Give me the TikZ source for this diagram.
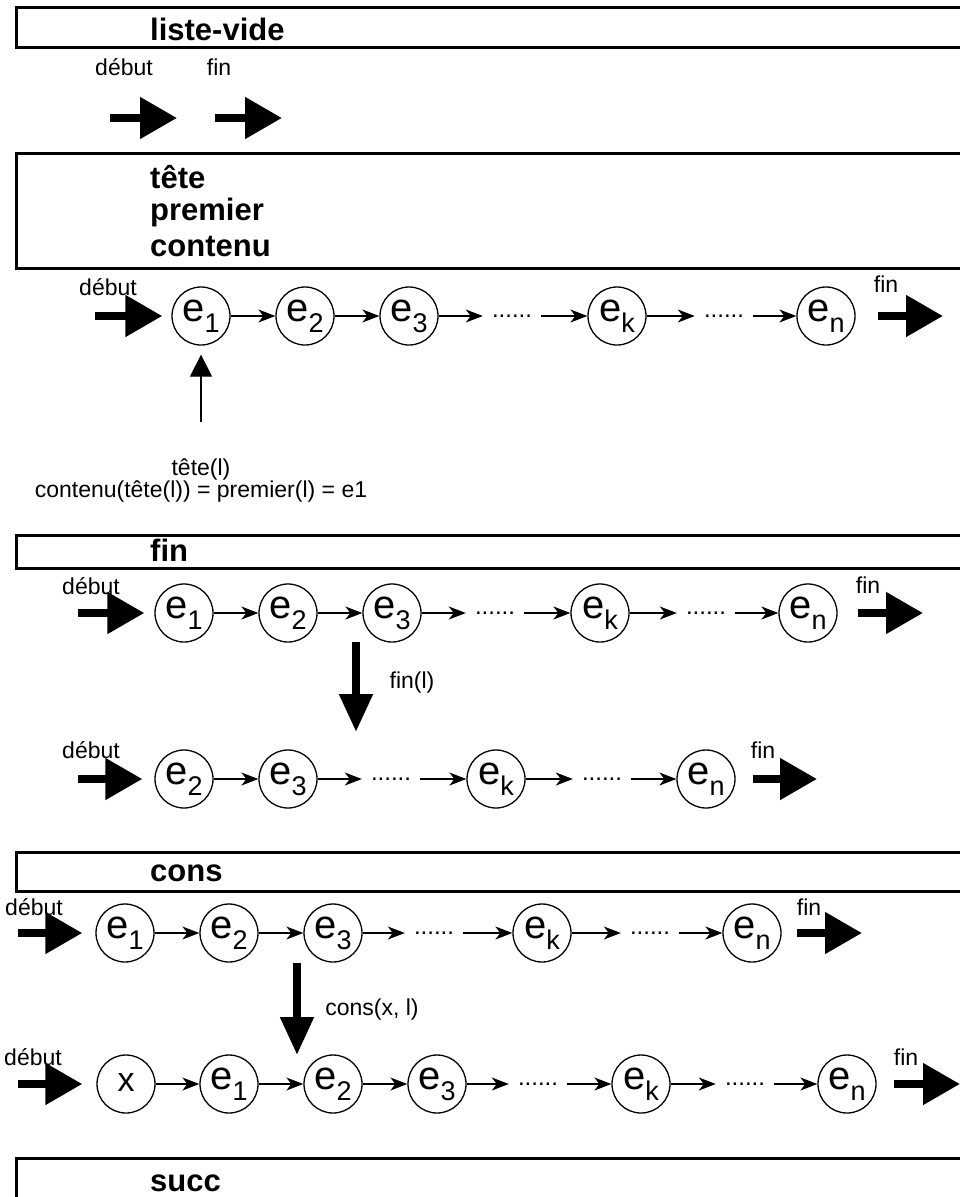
\documentclass[tikz,border=0pt]{standalone}
\usepackage{fontspec}
\setmainfont{Liberation Sans}
\usetikzlibrary{arrows.meta}
\newcommand{\elt}[1]{e\raisebox{-11pt}{\fontsize{27}{27}\selectfont #1}}

\begin{document}
\begin{tikzpicture}[
  x=1pt,y=-1pt,
  elem/.style={circle,draw,line width=1.3pt,minimum size=58pt,inner sep=0pt,
    font=\fontsize{40}{40}\selectfont},
  suite/.style={inner xsep=9pt,inner ysep=0pt,font=\fontsize{24}{24}\selectfont},
  lien/.style={line width=1.3pt,-{Stealth[length=17pt,width=13pt,inset=5pt]}},
  fat/.style={line width=8pt,-{Triangle[length=37pt,width=40pt]}},
  vfat/.style={line width=8pt,-{Triangle[length=38pt,width=32pt]}},
  etiq/.style={font=\fontsize{23}{27}\selectfont},
  rubrique/.style={anchor=west,inner sep=0pt,font=\fontsize{31}{31}\selectfont\bfseries},
  cadre/.style={line width=3pt}
]
  \useasboundingbox (0,0) rectangle (960,1197);
  \clip (0,0) rectangle (960,1197);

  \draw[cadre] (16,7) rectangle (975,47);
  \node[rubrique] (tvide) at (150,29) {liste-vide};
  \coordinate (vd0) at (110,118); \coordinate (vd1) at (177,118);
  \coordinate (vf0) at (215,118); \coordinate (vf1) at (282,118);
  \draw[fat] (vd0) -- (vd1);
  \draw[fat] (vf0) -- (vf1);
  \node[etiq] (vdeb) at (124,67) {début};
  \node[etiq] (vfin) at (219,67) {fin};

  \draw[cadre] (16,153) rectangle (975,268);
  \node[rubrique] (ttete) at (150,177) {tête};
  \node[rubrique] (tprem) at (150,212) {premier};
  \node[rubrique] (tcont) at (150,247) {contenu};

  \node[elem] (tt1) at (201,316) {\elt{1}};
  \node[elem] (tt2) at (305,316) {\elt{2}};
  \node[elem] (tt3) at (409,316) {\elt{3}};
  \node[suite] (ttd1) at (512,316) {......};
  \node[elem] (ttk) at (617,316) {\elt{k}};
  \node[suite] (ttd2) at (724,316) {......};
  \node[elem] (ttn) at (826,316) {\elt{n}};
  \coordinate (ttdeb) at (95,316); \coordinate (ttfin) at (943,316);
  \draw[fat,shorten >=9pt] (ttdeb) -- (tt1.west);
  \draw[fat,shorten <=22pt] (ttn.east) -- (ttfin);
  \node[etiq] (ttdl) at (108,287) {début};
  \node[etiq] (ttfl) at (886,284) {fin};
  \coordinate (ttpied) at (201,422);
  \draw[line width=1.3pt,-{Triangle[length=22pt,width=22pt]},shorten >=9pt]
    (ttpied) -- (tt1.south);
  \node[etiq,align=center,font=\fontsize{23}{22}\selectfont] (ttx) at (201,481)
    {tête(l)\\contenu(tête(l)) = premier(l) = e1};

  \draw[cadre] (16,535) rectangle (975,568);
  \node[rubrique] (tfin) at (150,550) {fin};

  \node[elem] (fa1) at (184,613) {\elt{1}};
  \node[elem] (fa2) at (288,613) {\elt{2}};
  \node[elem] (fa3) at (392,613) {\elt{3}};
  \node[suite] (fad1) at (495,613) {......};
  \node[elem] (fak) at (600,613) {\elt{k}};
  \node[suite] (fad2) at (706,613) {......};
  \node[elem] (fan) at (808,613) {\elt{n}};
  \coordinate (fadeb) at (78,613); \coordinate (fafin) at (923,613);
  \draw[fat,shorten >=10pt] (fadeb) -- (fa1.west);
  \draw[fat,shorten <=20pt] (fan.east) -- (fafin);
  \node[etiq] (fadl) at (91,586) {début};
  \node[etiq] (fafl) at (868,585) {fin};

  \coordinate (fop0) at (356,642); \coordinate (fop1) at (356,732);
  \draw[vfat] (fop0) -- (fop1);
  \node[etiq] (fopl) at (412,683) {fin(l)};

  \node[elem] (fb2) at (184,779) {\elt{2}};
  \node[elem] (fb3) at (288,779) {\elt{3}};
  \node[suite] (fbd1) at (391,779) {......};
  \node[elem] (fbk) at (496,779) {\elt{k}};
  \node[suite] (fbd2) at (602,779) {......};
  \node[elem] (fbn) at (706,779) {\elt{n}};
  \coordinate (fbdeb) at (78,779); \coordinate (fbfin) at (817,779);
  \draw[fat,shorten >=12pt] (fbdeb) -- (fb2.west);
  \draw[fat,shorten <=17pt] (fbn.east) -- (fbfin);
  \node[etiq] (fbdl) at (91,750) {début};
  \node[etiq] (fbfl) at (763,750) {fin};

  \draw[cadre] (16,852) rectangle (975,891);
  \node[rubrique] (tcons) at (150,873) {cons};

  \node[elem] (ca1) at (125,933) {\elt{1}};
  \node[elem] (ca2) at (229,933) {\elt{2}};
  \node[elem] (ca3) at (333,933) {\elt{3}};
  \node[suite] (cad1) at (434,933) {......};
  \node[elem] (cak) at (542,933) {\elt{k}};
  \node[suite] (cad2) at (650,933) {......};
  \node[elem] (can) at (752,933) {\elt{n}};
  \coordinate (cadeb) at (18,933); \coordinate (cafin) at (862,933);
  \draw[fat,shorten >=13pt] (cadeb) -- (ca1.west);
  \draw[fat,shorten <=15pt] (can.east) -- (cafin);
  \node[etiq] (cadl) at (34,907) {début};
  \node[etiq] (cafl) at (809,907) {fin};

  \coordinate (cop0) at (297,963); \coordinate (cop1) at (297,1055);
  \draw[vfat] (cop0) -- (cop1);
  \node[etiq] (copl) at (372,1010) {cons(x, l)};

  \node[elem,font=\fontsize{34}{34}\selectfont] (cbx) at (126,1084) {\raisebox{3pt}{x}};
  \node[elem] (cb1) at (229,1084) {\elt{1}};
  \node[elem] (cb2) at (333,1084) {\elt{2}};
  \node[elem] (cb3) at (437,1084) {\elt{3}};
  \node[suite] (cbd1) at (538,1084) {......};
  \node[elem] (cbk) at (641,1084) {\elt{k}};
  \node[suite] (cbd2) at (745,1084) {......};
  \node[elem] (cbn) at (847,1084) {\elt{n}};
  \coordinate (cbdeb) at (18,1084); \coordinate (cbfin) at (960,1084);
  \draw[fat,shorten >=14pt] (cbdeb) -- (cbx.west);
  \draw[fat,shorten <=17pt] (cbn.east) -- (cbfin);
  \node[etiq] (cbdl) at (33,1057) {début};
  \node[etiq] (cbfl) at (906,1057) {fin};

  \foreach \a/\b in {tt1/tt2,tt2/tt3,tt3/ttd1,ttd1/ttk,ttk/ttd2,ttd2/ttn,
    fa1/fa2,fa2/fa3,fa3/fad1,fad1/fak,fak/fad2,fad2/fan,
    fb2/fb3,fb3/fbd1,fbd1/fbk,fbk/fbd2,fbd2/fbn,
    ca1/ca2,ca2/ca3,ca3/cad1,cad1/cak,cak/cad2,cad2/can,
    cbx/cb1,cb1/cb2,cb2/cb3,cb3/cbd1,cbd1/cbk,cbk/cbd2,cbd2/cbn} {
    \draw[lien] (\a) -- (\b);
  }

  \draw[cadre] (16,1158) rectangle (975,1215);
  \node[rubrique] (tsucc) at (150,1183) {succ};
\end{tikzpicture}
\end{document}
